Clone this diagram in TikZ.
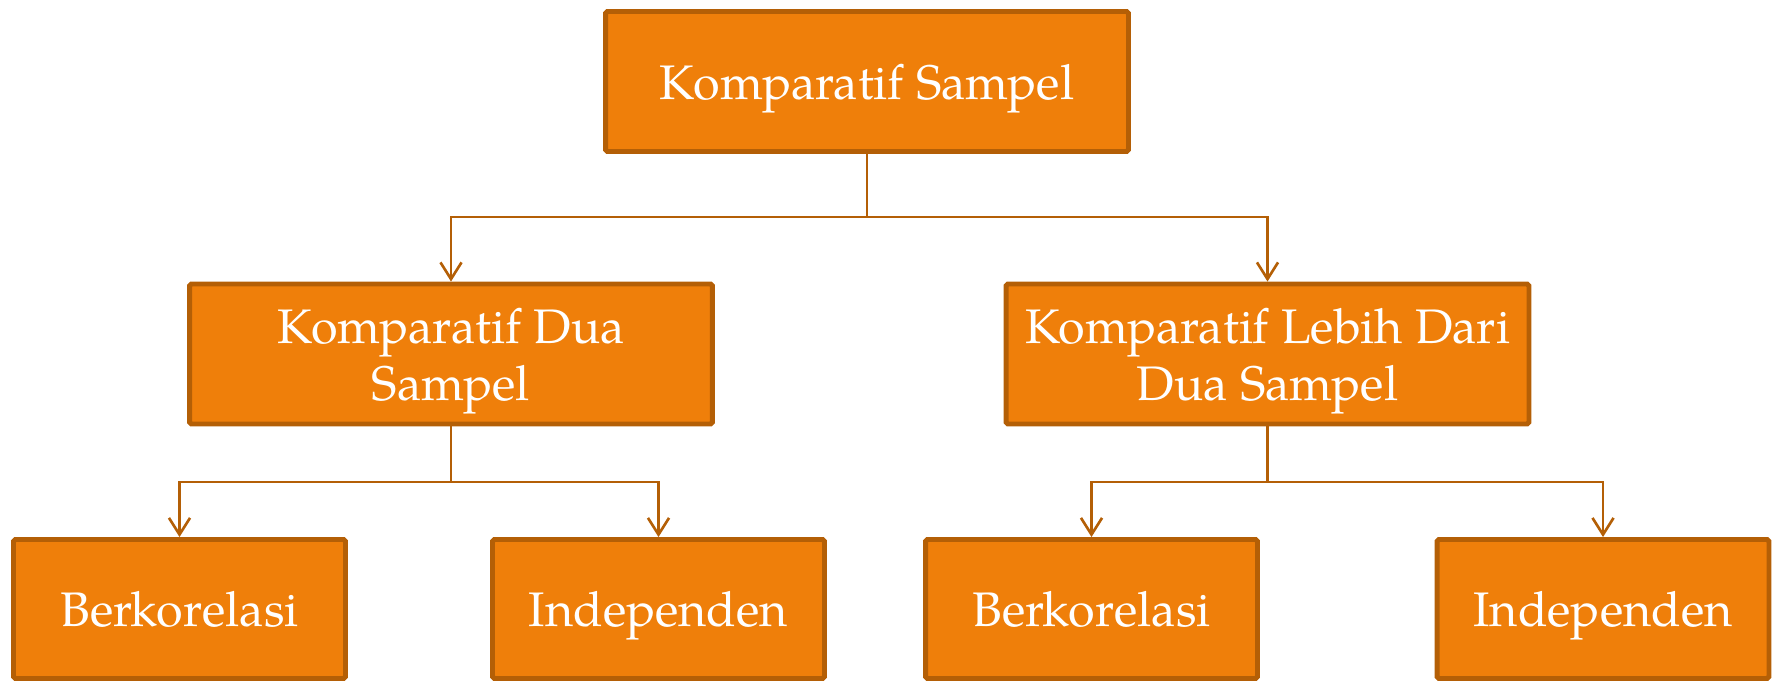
\documentclass[tikz,border=0pt]{standalone}
\usepackage{fontspec}
\setmainfont{TeX Gyre Pagella}
\usetikzlibrary{arrows.meta}
\definecolor{boxfill}{RGB}{239,127,10}
\definecolor{boxline}{RGB}{180,95,6}
\tikzset{
	bigbox/.style={draw=boxline, fill=boxfill, line width=2.8pt, rounded corners=1pt, text=white, align=center, minimum width=10.46cm, minimum height=2.8cm, inner sep=0pt, text height=20pt, text depth=0pt, font=\fontsize{27.6}{32.4}\selectfont},
	twoline/.style={text height=52.6pt},
	smallbox/.style={bigbox, minimum width=6.64cm, minimum height=2.78cm, text height=19.4pt},
	conn/.style={draw=boxline, line width=1.5pt},
	connarrow/.style={conn, -{Straight Barb[length=9.5pt,width=12pt,line width=1.5pt]}}
}

\begin{document}
\begin{tikzpicture}[x=0.02cm, y=-0.02cm]
		%%%%% START %%%%%
		\useasboundingbox (0, 0) rectangle (1775, 682);
		
		\node[bigbox] (komp) at (867, 81.5) {Komparatif Sampel};
		
		\node[bigbox, twoline] (dua) at (451, 354) {Komparatif Dua\\Sampel};
		\node[bigbox, twoline] (lebih) at (1267.5, 354) {Komparatif Lebih Dari\\Dua Sampel};
		
		\node[smallbox] (duaber) at (179.5, 609) {Berkorelasi};
		\node[smallbox] (duaind) at (658.5, 609) {Independen};
		\node[smallbox] (lebihber) at (1091.5, 609) {Berkorelasi};
		\node[smallbox] (lebihind) at (1603, 609) {Independen};
		
		\coordinate (kompjoin) at (867, 217);
		\coordinate (duajoin) at (451, 482);
		\coordinate (lebihjoin) at (1267.5, 482);
		
		\draw[conn] (komp) -- (kompjoin);
		\draw[connarrow] (kompjoin) -| (dua);
		\draw[connarrow] (kompjoin) -| (lebih);
		
		\draw[conn] (dua) -- (duajoin);
		\draw[connarrow] (duajoin) -| (duaber);
		\draw[connarrow] (duajoin) -| (duaind);
		
		\draw[conn] (lebih) -- (lebihjoin);
		\draw[connarrow] (lebihjoin) -| (lebihber);
		\draw[connarrow] (lebihjoin) -| (lebihind);
		
		%%%%% END %%%%%
\end{tikzpicture}
\end{document}
